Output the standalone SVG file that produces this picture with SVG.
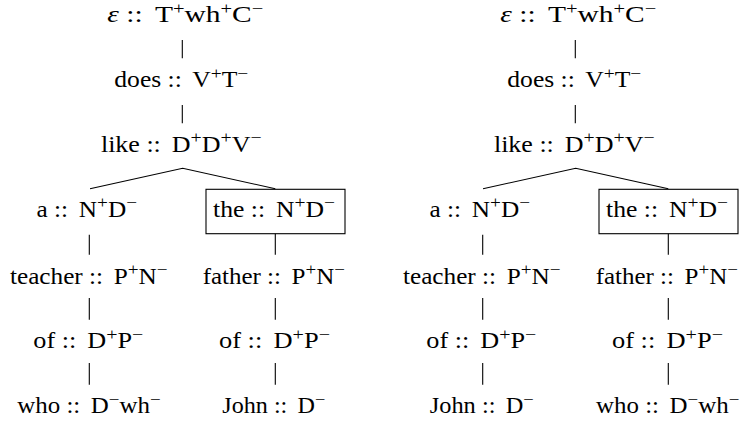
<svg xmlns="http://www.w3.org/2000/svg" width="740" height="426" viewBox="0 0 740 426">
<style>
text{font-family:"Liberation Serif","Times New Roman",serif;font-size:23px;fill:#000;text-anchor:middle}
.s{font-size:17.5px}
.t{font-size:16px}
.e{font-style:italic}
.c line,.c polyline{stroke:#000;stroke-width:1.1;fill:none}
.box{fill:none;stroke:#000;stroke-width:1.1}
</style>
<rect width="740" height="426" fill="#fff"/>
<g id="connectors" class="c">
<line x1="182.3" y1="40" x2="182.3" y2="58.3"/>
<line x1="182.3" y1="105" x2="182.3" y2="123.3"/>
<polyline points="90,188.7 182.7,168.3 275.3,188.7"/>
<line x1="89.3" y1="234.7" x2="89.3" y2="254.7"/>
<line x1="89.3" y1="298" x2="89.3" y2="319.7"/>
<line x1="89.3" y1="363" x2="89.3" y2="384.7"/>
<line x1="275.3" y1="233.7" x2="275.3" y2="254.7"/>
<line x1="275.3" y1="298" x2="275.3" y2="319.7"/>
<line x1="275.3" y1="363" x2="275.3" y2="384.7"/>
<line x1="575.3" y1="40" x2="575.3" y2="58.3"/>
<line x1="575.3" y1="105" x2="575.3" y2="123.3"/>
<polyline points="483,188.7 575.7,168.3 668.3,188.7"/>
<line x1="482.7" y1="234.7" x2="482.7" y2="254.7"/>
<line x1="482.7" y1="298" x2="482.7" y2="319.7"/>
<line x1="482.7" y1="363" x2="482.7" y2="384.7"/>
<line x1="668.3" y1="233.7" x2="668.3" y2="254.7"/>
<line x1="668.3" y1="298" x2="668.3" y2="319.7"/>
<line x1="668.3" y1="363" x2="668.3" y2="384.7"/>
</g>
<g id="L-eps"><text x="185.3" y="22.3" textLength="156" lengthAdjust="spacingAndGlyphs"><tspan class="e">ε</tspan> :: <tspan dx="4">T</tspan><tspan class="t" dy="-8">+</tspan><tspan dy="8">wh</tspan><tspan class="t" dy="-8">+</tspan><tspan dy="8">C</tspan><tspan class="t" dy="-8">−</tspan></text></g>
<g id="L-does"><text x="181.3" y="87.3" textLength="134" lengthAdjust="spacingAndGlyphs">does :: <tspan dx="4">V</tspan><tspan class="s" dy="-8.5">+</tspan><tspan dy="8.5">T</tspan><tspan class="s" dy="-8.5">−</tspan></text></g>
<g id="L-like"><text x="181.3" y="151.7" textLength="160.7" lengthAdjust="spacingAndGlyphs">like :: <tspan dx="4">D</tspan><tspan class="s" dy="-8.5">+</tspan><tspan dy="8.5">D</tspan><tspan class="s" dy="-8.5">+</tspan><tspan dy="8.5">V</tspan><tspan class="s" dy="-8.5">−</tspan></text></g>
<g id="L-a"><text x="86.8" y="216.7" textLength="100.5" lengthAdjust="spacingAndGlyphs">a :: <tspan dx="4">N</tspan><tspan class="s" dy="-8.5">+</tspan><tspan dy="8.5">D</tspan><tspan class="s" dy="-8.5">−</tspan></text></g>
<g id="L-the"><rect class="box" x="206" y="189.3" width="139" height="44.4"/><text x="274" y="216.7" textLength="122" lengthAdjust="spacingAndGlyphs">the :: <tspan dx="4">N</tspan><tspan class="s" dy="-8.5">+</tspan><tspan dy="8.5">D</tspan><tspan class="s" dy="-8.5">−</tspan></text></g>
<g id="L-teacher"><text x="88.8" y="283.7" textLength="157.7" lengthAdjust="spacingAndGlyphs">teacher :: <tspan dx="4">P</tspan><tspan class="s" dy="-8.5">+</tspan><tspan dy="8.5">N</tspan><tspan class="s" dy="-8.5">−</tspan></text></g>
<g id="L-father"><text x="273.8" y="283.7" textLength="142.3" lengthAdjust="spacingAndGlyphs">father :: <tspan dx="4">P</tspan><tspan class="s" dy="-8.5">+</tspan><tspan dy="8.5">N</tspan><tspan class="s" dy="-8.5">−</tspan></text></g>
<g id="L-of1"><text x="88.3" y="348" textLength="110" lengthAdjust="spacingAndGlyphs">of :: <tspan dx="4">D</tspan><tspan class="s" dy="-8.5">+</tspan><tspan dy="8.5">P</tspan><tspan class="s" dy="-8.5">−</tspan></text></g>
<g id="L-of2"><text x="274.5" y="348" textLength="111" lengthAdjust="spacingAndGlyphs">of :: <tspan dx="4">D</tspan><tspan class="s" dy="-8.5">+</tspan><tspan dy="8.5">P</tspan><tspan class="s" dy="-8.5">−</tspan></text></g>
<g id="L-who"><text x="89" y="413.3" textLength="143.4" lengthAdjust="spacingAndGlyphs">who :: <tspan dx="4">D</tspan><tspan class="s" dy="-8.5">−</tspan><tspan dy="8.5">wh</tspan><tspan class="s" dy="-8.5">−</tspan></text></g>
<g id="L-john"><text x="273.8" y="413.3" textLength="103" lengthAdjust="spacingAndGlyphs">John :: <tspan dx="4">D</tspan><tspan class="s" dy="-8.5">−</tspan></text></g>
<g id="R-eps"><text x="578.3" y="22.3" textLength="156" lengthAdjust="spacingAndGlyphs"><tspan class="e">ε</tspan> :: <tspan dx="4">T</tspan><tspan class="t" dy="-8">+</tspan><tspan dy="8">wh</tspan><tspan class="t" dy="-8">+</tspan><tspan dy="8">C</tspan><tspan class="t" dy="-8">−</tspan></text></g>
<g id="R-does"><text x="574.3" y="87.3" textLength="134" lengthAdjust="spacingAndGlyphs">does :: <tspan dx="4">V</tspan><tspan class="s" dy="-8.5">+</tspan><tspan dy="8.5">T</tspan><tspan class="s" dy="-8.5">−</tspan></text></g>
<g id="R-like"><text x="574.3" y="151.7" textLength="160.7" lengthAdjust="spacingAndGlyphs">like :: <tspan dx="4">D</tspan><tspan class="s" dy="-8.5">+</tspan><tspan dy="8.5">D</tspan><tspan class="s" dy="-8.5">+</tspan><tspan dy="8.5">V</tspan><tspan class="s" dy="-8.5">−</tspan></text></g>
<g id="R-a"><text x="479.8" y="216.7" textLength="100.5" lengthAdjust="spacingAndGlyphs">a :: <tspan dx="4">N</tspan><tspan class="s" dy="-8.5">+</tspan><tspan dy="8.5">D</tspan><tspan class="s" dy="-8.5">−</tspan></text></g>
<g id="R-the"><rect class="box" x="599" y="189.3" width="139" height="44.4"/><text x="667" y="216.7" textLength="122" lengthAdjust="spacingAndGlyphs">the :: <tspan dx="4">N</tspan><tspan class="s" dy="-8.5">+</tspan><tspan dy="8.5">D</tspan><tspan class="s" dy="-8.5">−</tspan></text></g>
<g id="R-teacher"><text x="481.8" y="283.7" textLength="157.7" lengthAdjust="spacingAndGlyphs">teacher :: <tspan dx="4">P</tspan><tspan class="s" dy="-8.5">+</tspan><tspan dy="8.5">N</tspan><tspan class="s" dy="-8.5">−</tspan></text></g>
<g id="R-father"><text x="666.8" y="283.7" textLength="142.3" lengthAdjust="spacingAndGlyphs">father :: <tspan dx="4">P</tspan><tspan class="s" dy="-8.5">+</tspan><tspan dy="8.5">N</tspan><tspan class="s" dy="-8.5">−</tspan></text></g>
<g id="R-of1"><text x="481.3" y="348" textLength="110" lengthAdjust="spacingAndGlyphs">of :: <tspan dx="4">D</tspan><tspan class="s" dy="-8.5">+</tspan><tspan dy="8.5">P</tspan><tspan class="s" dy="-8.5">−</tspan></text></g>
<g id="R-of2"><text x="667.5" y="348" textLength="111" lengthAdjust="spacingAndGlyphs">of :: <tspan dx="4">D</tspan><tspan class="s" dy="-8.5">+</tspan><tspan dy="8.5">P</tspan><tspan class="s" dy="-8.5">−</tspan></text></g>
<g id="R-john"><text x="481.8" y="413.3" textLength="104" lengthAdjust="spacingAndGlyphs">John :: <tspan dx="4">D</tspan><tspan class="s" dy="-8.5">−</tspan></text></g>
<g id="R-who"><text x="667.7" y="413.3" textLength="143.4" lengthAdjust="spacingAndGlyphs">who :: <tspan dx="4">D</tspan><tspan class="s" dy="-8.5">−</tspan><tspan dy="8.5">wh</tspan><tspan class="s" dy="-8.5">−</tspan></text></g>
</svg>
